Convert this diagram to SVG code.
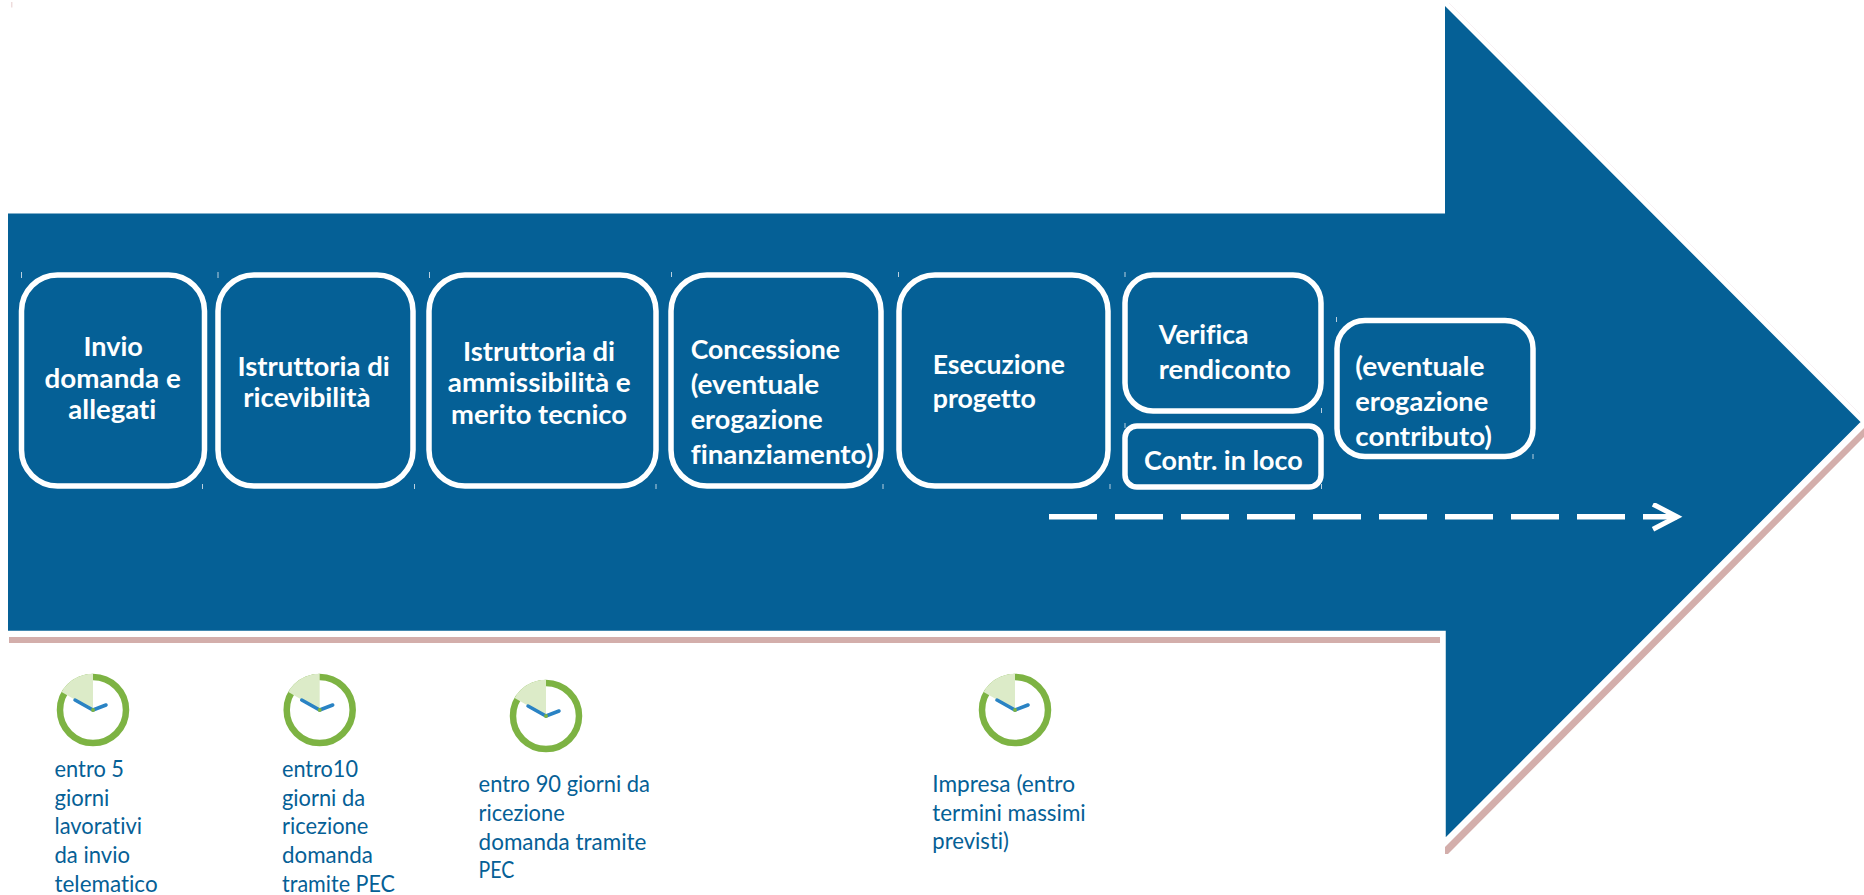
<svg xmlns="http://www.w3.org/2000/svg" width="1864" height="895" viewBox="0 0 1864 895">
<defs>
<style>
.box{fill:none;stroke:#fff;stroke-width:5.5}
.t{font-family:Lato,"Liberation Sans",sans-serif;font-weight:700;font-size:27px;fill:#fff;font-variant-ligatures:none}
.l{font-family:Lato,"Liberation Sans",sans-serif;font-size:22.5px;fill:#056096;font-variant-ligatures:none}
.tick{stroke:#b9d0e0;stroke-width:1;fill:none}
</style>
<marker id="chev" markerUnits="userSpaceOnUse" markerWidth="34" markerHeight="34" refX="26" refY="14" orient="auto" viewBox="0 0 34 34"><path d="M2 1.5L26 14L2 26.5" fill="none" stroke="#fff" stroke-width="5"/></marker>
<g id="clock">
<circle r="33" fill="#fff" stroke="#7db343" stroke-width="6.5"/>
<path d="M0 0V-36.3A36.3 36.3 0 0 0 -31.4 -18.1Z" fill="#dcebc8"/>
<path d="M-18 -10L0 0L13 -5" fill="none" stroke="#2a83c4" stroke-width="3.5" stroke-linecap="round"/>
<circle r="2" fill="#7db343"/>
</g>
</defs>
<rect width="1864" height="895" fill="#fff"/>
<g id="arrow">
<path d="M11.7 2V7.5" fill="none" stroke="#eedcdc" stroke-width="1.5"/>
<path d="M1449 3L1860 414" fill="none" stroke="#f3eaee" stroke-width="0.7"/>
<path d="M9 637H1440V643H9Z" fill="#d3aeab"/>
<path d="M1445 847L1864 428V437L1448 854H1445Z" fill="#d3aeab"/>
<path d="M8 213.5H1445V6L1861 422.5L1445 839V631.5H8Z" fill="#056096"/>
<path d="M1861 422.5L1445 839V631.5H8" fill="none" stroke="#fff" stroke-width="1.5"/>
</g>
<g id="connectors">
<path d="M1049 516.7H1677" fill="none" stroke="#fff" stroke-width="5.5" stroke-dasharray="48 18" marker-end="url(#chev)"/>
</g>
<g id="n1"><rect class="box" x="21.5" y="275" width="183" height="211" rx="36"/><path class="tick" d="M21.5 272V278M202.5 484V489"/>
<text class="t" x="83.5" y="355.6" textLength="59.4" lengthAdjust="spacingAndGlyphs">Invio</text><text class="t" x="44.6" y="387.7" textLength="136.2" lengthAdjust="spacingAndGlyphs">domanda e</text><text class="t" x="68.3" y="418.5" textLength="88" lengthAdjust="spacingAndGlyphs">allegati</text></g>
<g id="n2"><rect class="box" x="218" y="275" width="195" height="211" rx="36"/><path class="tick" d="M218 272V278M414.5 484V489"/>
<text class="t" x="237.5" y="375.7" textLength="152.2" lengthAdjust="spacingAndGlyphs">Istruttoria di</text><text class="t" x="243.3" y="407.3" textLength="127.2" lengthAdjust="spacingAndGlyphs">ricevibilità</text></g>
<g id="n3"><rect class="box" x="429" y="275" width="227" height="211" rx="36"/><path class="tick" d="M429.5 272V278M656 484V489"/>
<text class="t" x="463" y="361" textLength="152" lengthAdjust="spacingAndGlyphs">Istruttoria di</text><text class="t" x="447.8" y="392" textLength="183" lengthAdjust="spacingAndGlyphs">ammissibilità e</text><text class="t" x="451" y="424" textLength="176" lengthAdjust="spacingAndGlyphs">merito tecnico</text></g>
<g id="n4"><rect class="box" x="671" y="275" width="210" height="211" rx="36"/><path class="tick" d="M671.5 272V277M883 484V489"/>
<text class="t" x="690.7" y="358.7" textLength="149.3" lengthAdjust="spacingAndGlyphs">Concessione</text><text class="t" x="690.7" y="394" textLength="128.6" lengthAdjust="spacingAndGlyphs">(eventuale</text><text class="t" x="690.7" y="429" textLength="132" lengthAdjust="spacingAndGlyphs">erogazione</text><text class="t" x="690.7" y="464" textLength="182.6" lengthAdjust="spacingAndGlyphs">finanziamento)</text></g>
<g id="n5"><rect class="box" x="899" y="275" width="209" height="211" rx="36"/><path class="tick" d="M898.5 272V277M1110 484V489"/>
<text class="t" x="932.7" y="374" textLength="132.3" lengthAdjust="spacingAndGlyphs">Esecuzione</text><text class="t" x="932.7" y="408" textLength="103.3" lengthAdjust="spacingAndGlyphs">progetto</text></g>
<g id="n6"><rect class="box" x="1125" y="275" width="196" height="136" rx="28"/><path class="tick" d="M1125 272V277M1321.5 408V413"/>
<text class="t" x="1158.8" y="344" textLength="89.8" lengthAdjust="spacingAndGlyphs">Verifica</text><text class="t" x="1158.8" y="379" textLength="131.9" lengthAdjust="spacingAndGlyphs">rendiconto</text></g>
<g id="n7"><rect class="box" x="1125" y="426" width="196" height="61" rx="12"/><path class="tick" d="M1125 423V428M1321.5 484V489"/>
<text class="t" x="1144" y="470" textLength="158.7" lengthAdjust="spacingAndGlyphs">Contr. in loco</text></g>
<g id="n8"><rect class="box" x="1337" y="320.5" width="196" height="136" rx="28"/><path class="tick" d="M1336.5 317V322M1533 454V459"/>
<text class="t" x="1355.3" y="376" textLength="129.3" lengthAdjust="spacingAndGlyphs">(eventuale</text><text class="t" x="1355.3" y="411" textLength="132.9" lengthAdjust="spacingAndGlyphs">erogazione</text><text class="t" x="1355.3" y="445.7" textLength="136.7" lengthAdjust="spacingAndGlyphs">contributo)</text></g>
<g id="c1"><use href="#clock" x="93" y="710"/>
<text class="l" x="54.5" y="777" textLength="69.5" lengthAdjust="spacingAndGlyphs">entro 5</text><text class="l" x="54.5" y="806" textLength="54.9" lengthAdjust="spacingAndGlyphs">giorni</text><text class="l" x="54.5" y="834" textLength="87.5" lengthAdjust="spacingAndGlyphs">lavorativi</text><text class="l" x="54.5" y="863" textLength="75.5" lengthAdjust="spacingAndGlyphs">da invio</text><text class="l" x="54.5" y="892" textLength="103.1" lengthAdjust="spacingAndGlyphs">telematico</text></g>
<g id="c2"><use href="#clock" x="319.7" y="710"/>
<text class="l" x="282" y="777" textLength="76" lengthAdjust="spacingAndGlyphs">entro10</text><text class="l" x="282" y="806" textLength="83" lengthAdjust="spacingAndGlyphs">giorni da</text><text class="l" x="282" y="834" textLength="86.3" lengthAdjust="spacingAndGlyphs">ricezione</text><text class="l" x="282" y="863" textLength="90.8" lengthAdjust="spacingAndGlyphs">domanda</text><text class="l" x="282" y="892" textLength="113" lengthAdjust="spacingAndGlyphs">tramite PEC</text></g>
<g id="c3"><use href="#clock" x="546" y="716"/>
<text class="l" x="478.6" y="792" textLength="171.4" lengthAdjust="spacingAndGlyphs">entro 90 giorni da</text><text class="l" x="478.6" y="821" textLength="86.1" lengthAdjust="spacingAndGlyphs">ricezione</text><text class="l" x="478.6" y="850" textLength="167.8" lengthAdjust="spacingAndGlyphs">domanda tramite</text><text class="l" x="478.6" y="878" textLength="35.7" lengthAdjust="spacingAndGlyphs">PEC</text></g>
<g id="c4"><use href="#clock" x="1015" y="710"/>
<text class="l" x="932.3" y="792" textLength="142.7" lengthAdjust="spacingAndGlyphs">Impresa (entro</text><text class="l" x="932.3" y="821" textLength="153.4" lengthAdjust="spacingAndGlyphs">termini massimi</text><text class="l" x="932.3" y="849" textLength="76.7" lengthAdjust="spacingAndGlyphs">previsti)</text></g>
</svg>
